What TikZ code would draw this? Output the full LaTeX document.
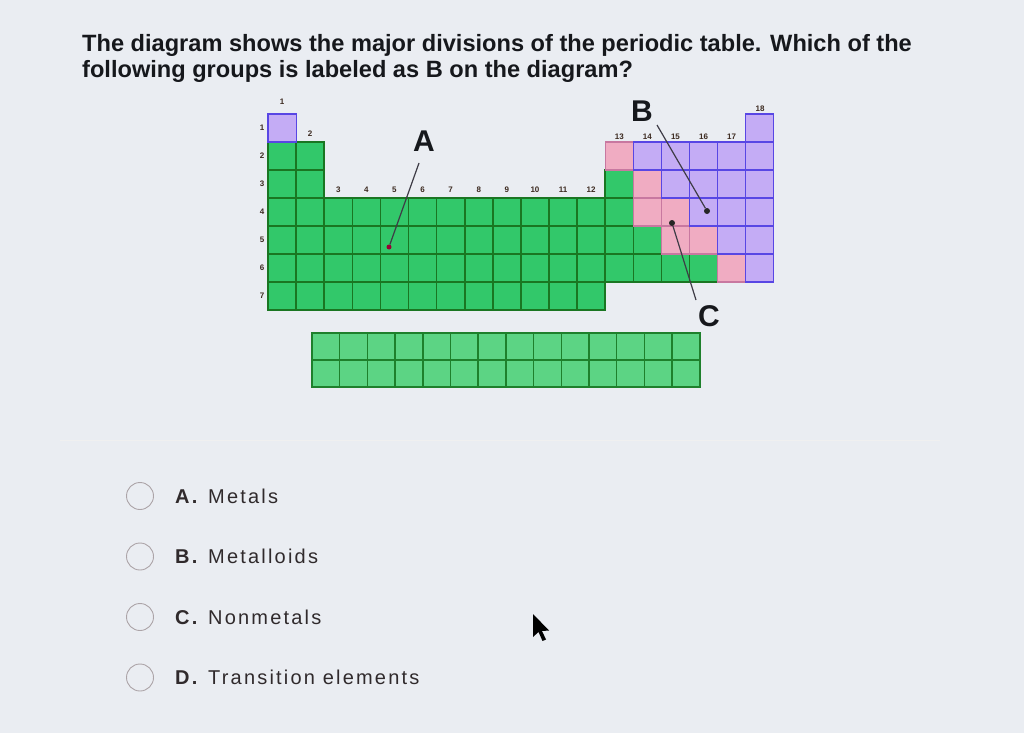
\documentclass[tikz,border=0pt]{standalone}
\usepackage{fontspec}
\setmainfont{Liberation Sans}
\newfontfamily\optfont[LetterSpace=11]{Liberation Sans}

\definecolor{screenbg}{RGB}{234,237,242}
\definecolor{metalfill}{RGB}{50,200,106}
\definecolor{metalline}{RGB}{26,118,34}
\definecolor{loidfill}{RGB}{240,172,194}
\definecolor{loidline}{RGB}{200,120,160}
\definecolor{nonfill}{RGB}{196,172,245}
\definecolor{nonline}{RGB}{88,70,228}
\definecolor{rarefill}{RGB}{92,212,132}
\definecolor{rareline}{RGB}{30,128,44}
\definecolor{inktext}{RGB}{22,24,28}
\definecolor{opttext}{RGB}{48,42,44}
\definecolor{numtext}{RGB}{60,42,32}
\definecolor{pointerline}{RGB}{62,60,70}
\definecolor{radioline}{RGB}{172,164,168}

\newcommand{\pcell}[3]{\path[#3] ({268+(#1-1)*28.1},{114+(#2-1)*28}) rectangle ++(28.1,28);}

\begin{document}
\begin{tikzpicture}[x=1pt,y=-1pt,
  metal/.style={fill=metalfill,draw=metalline,line width=1.6pt},
  metalloid/.style={fill=loidfill,draw=loidline,line width=1.2pt},
  nonmetal/.style={fill=nonfill,draw=nonline,line width=1.2pt},
  rare/.style={fill=rarefill,draw=rareline,line width=1.5pt},
  question/.style={anchor=base west,inner sep=0pt,text=inktext,font=\fontsize{23.6}{28}\selectfont\bfseries},
  grpnum/.style={inner sep=0pt,text=numtext,font=\fontsize{8}{9}\selectfont\bfseries},
  bigletter/.style={inner sep=0pt,text=inktext,font=\fontsize{30}{32}\selectfont\bfseries},
  pointer/.style={draw=pointerline,line width=1.2pt},
  dotpink/.style={circle,fill=purple!80!black,inner sep=0pt,minimum size=5pt},
  dotdark/.style={circle,fill=black!85,inner sep=0pt,minimum size=6pt},
  radio/.style={circle,draw=radioline,line width=0.9pt,minimum size=27pt,inner sep=0pt},
  optletter/.style={anchor=base west,inner sep=0pt,text=opttext,font=\optfont\fontsize{20}{24}\selectfont\bfseries},
  optword/.style={anchor=base west,inner sep=0pt,text=opttext,font=\optfont\fontsize{20}{24}\selectfont}]

\useasboundingbox (0,0) rectangle (1024,733);
\fill[screenbg] (0,0) rectangle (1024,733);

% question
\node[question] (qline1) at (82,52) {The diagram shows the major divisions of the periodic table. Which of the};
\node[question] (qline2) at (82,78) {following groups is labeled as B on the diagram?};

% main table
\foreach \g in {1,2} {\foreach \p in {2,...,7} {\pcell{\g}{\p}{metal}}}
\foreach \g in {3,...,12} {\foreach \p in {4,...,7} {\pcell{\g}{\p}{metal}}}
\foreach \g/\p in {13/3,13/4,13/5,13/6,14/5,14/6,15/6,16/6} {\pcell{\g}{\p}{metal}}
\foreach \g/\p in {13/2,14/3,14/4,15/4,15/5,16/5,17/6} {\pcell{\g}{\p}{metalloid}}
\foreach \g/\p in {1/1,18/1,14/2,15/2,16/2,17/2,18/2,15/3,16/3,17/3,18/3,
  16/4,17/4,18/4,17/5,18/5,18/6} {\pcell{\g}{\p}{nonmetal}}

% lanthanides and actinides
\foreach \c in {0,...,13} {\foreach \r in {0,1} {
  \path[rare] ({312+\c*27.7},{333+\r*27}) rectangle ++(27.7,27);}}

% group and period numbers
\node[grpnum] (grp1) at (282,102) {1};
\node[grpnum] (grp2) at (310,134) {2};
\foreach \g in {3,...,12} {\node[grpnum] (grp\g) at ({268+(\g-0.5)*28.1},190) {\g};}
\foreach \g in {13,...,17} {\node[grpnum] (grp\g) at ({268+(\g-0.5)*28.1},137) {\g};}
\node[grpnum] (grp18) at (760,109) {18};
\foreach \p in {1,...,7} {\node[grpnum] (per\p) at (262,{128+(\p-1)*28}) {\p};}

% labels A, B, C
\node[bigletter] (lblA) at (424,141) {A};
\node[bigletter] (lblB) at (642,111) {B};
\node[bigletter] (lblC) at (709,316) {C};
\coordinate (tailA) at (419,163);
\coordinate (tailB) at (657,125);
\coordinate (tailC) at (696,300);
\node[dotpink] (dotA) at (389,247) {};
\node[dotdark] (dotB) at (707,211) {};
\node[dotdark] (dotC) at (672,223) {};
\draw[pointer] (tailA) -- (dotA);
\draw[pointer] (tailB) -- (dotB);
\draw[pointer] (tailC) -- (dotC);

% faint separator
\draw[black!6,line width=1pt] (60,440) -- (940,440);

% answers
\foreach \k/\l/\w [count=\i from 0] in {a/A./Metals,b/B./Metalloids,c/C./Nonmetals,d/D./Transition elements} {
  \node[radio] (radio\k) at (140,{496+\i*60.5}) {};
  \node[optletter] (let\k) at (175,{503+\i*60.5}) {\l};
  \node[optword] (word\k) at (208,{503+\i*60.5}) {\w};
}

% mouse pointer
\fill[black] (533,614) -- (533,637) -- (538.5,632) -- (542.5,641) -- (546,639.5) -- (542,631) -- (549,630.5) -- cycle;

\end{tikzpicture}
\end{document}
